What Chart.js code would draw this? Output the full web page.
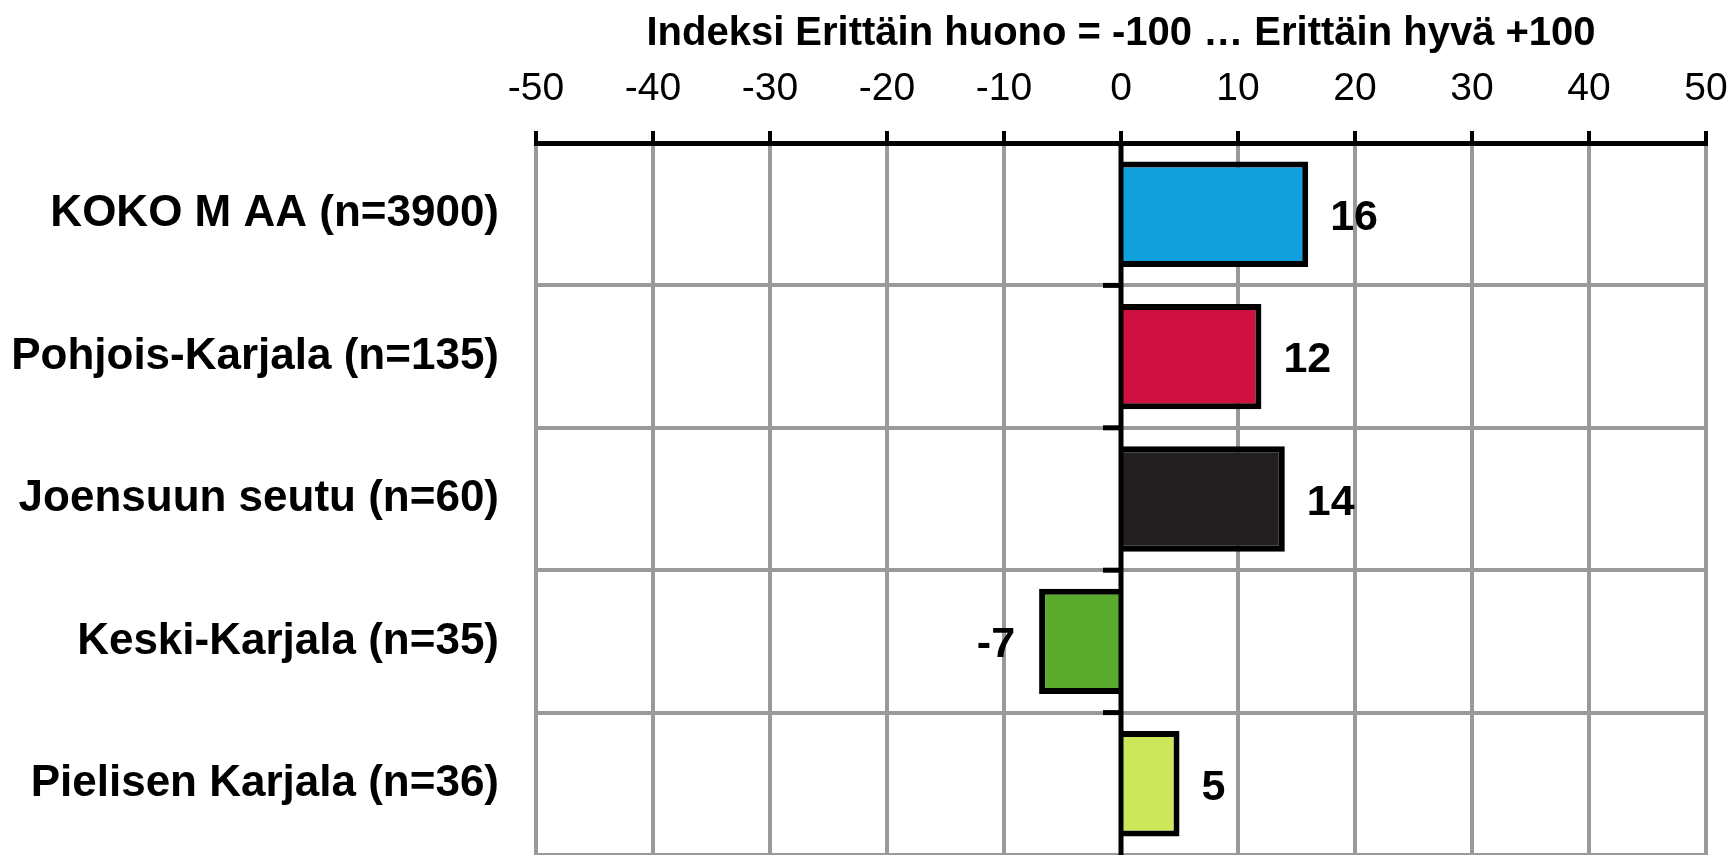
<!DOCTYPE html>
<html>
<head>
<meta charset="utf-8">
<script src="https://cdn.jsdelivr.net/npm/chart.js@4/dist/chart.umd.min.js"></script>
<style>
  html, body { margin: 0; padding: 0; background: #fff; }
  canvas { display: block; }
</style>
</head>
<body>
<canvas id="graph" width="1730" height="855"></canvas>
<script>
const categories = ['KOKO M AA (n=3900)', 'Pohjois-Karjala (n=135)', 'Joensuun seutu (n=60)', 'Keski-Karjala (n=35)', 'Pielisen Karjala (n=36)'];
const values = [16, 12, 14, -7, 5];
const barColors = ['#11a0db', '#cf1141', '#231f20', '#59aa2d', '#cde75a'];
const axisTitle = 'Indeksi Erittäin huono = -100 … Erittäin hyvä +100';

const fontFamily = '"Liberation Sans", Arial, sans-serif';

// zero line + little category ticks on it, drawn over the bars
const zeroLine = {
    id: 'zeroLine',
    afterDatasetsDraw(chart) {
        const {ctx, chartArea, scales} = chart;
        const x0 = scales.x.getPixelForValue(0);
        ctx.save();
        ctx.strokeStyle = '#000';
        ctx.lineWidth = 5;
        ctx.beginPath();
        ctx.moveTo(x0, chartArea.top);
        ctx.lineTo(x0, chartArea.bottom);
        ctx.stroke();
        for (let i = 0; i < categories.length - 1; i++) {
            const yb = (scales.y.getPixelForValue(i) + scales.y.getPixelForValue(i + 1)) / 2;
            ctx.beginPath();
            ctx.moveTo(x0 - 18, yb);
            ctx.lineTo(x0, yb);
            ctx.stroke();
        }
        ctx.restore();
    }
};

// value labels next to the bars
const valueLabels = {
    id: 'valueLabels',
    afterDatasetsDraw(chart) {
        const {ctx} = chart;
        const meta = chart.getDatasetMeta(0);
        ctx.save();
        ctx.font = 'bold 43px ' + fontFamily;
        ctx.fillStyle = '#000';
        ctx.textBaseline = 'middle';
        meta.data.forEach((bar, i) => {
            const v = values[i];
            if (v >= 0) {
                ctx.textAlign = 'left';
                ctx.fillText(String(v), bar.x + 22, bar.y + 4);
            } else {
                ctx.textAlign = 'right';
                ctx.fillText(String(v), bar.x - 24, bar.y + 4);
            }
        });
        ctx.restore();
    }
};

new Chart(document.getElementById('graph').getContext('2d'), {
    type: 'bar',
    data: {
        labels: categories,
        datasets: [{
            data: values,
            backgroundColor: barColors,
            borderColor: '#000',
            borderWidth: 6,
            barPercentage: 0.74,
            categoryPercentage: 1,
        }],
    },
    options: {
        indexAxis: 'y',
        responsive: false,
        animation: false,
        layout: { padding: 0 },
        plugins: {
            legend: { display: false },
            tooltip: { enabled: false },
        },
        scales: {
            x: {
                position: 'top',
                min: -50,
                max: 50,
                afterFit: function (scale) {
                    scale.height = 143;
                    scale.paddingLeft = 0;
                    scale.paddingRight = 24;
                },
                title: {
                    display: true,
                    text: axisTitle,
                    color: '#000',
                    font: { family: fontFamily, size: 40, weight: 'bold' },
                    padding: { top: 10, bottom: 4 },
                },
                grid: {
                    color: '#9a9a9a',
                    lineWidth: 4,
                    tickColor: '#000',
                    tickLength: 12,
                    tickWidth: 4,
                },
                border: {
                    display: true,
                    color: '#000',
                    width: 5,
                },
                ticks: {
                    stepSize: 10,
                    color: '#000',
                    padding: 18,
                    maxRotation: 0,
                    font: { family: fontFamily, size: 39 },
                },
            },
            y: {
                afterFit: function (scale) {
                    scale.width = 536;
                    scale.paddingTop = 0;
                    scale.paddingBottom = 0;
                },
                grid: {
                    color: '#9a9a9a',
                    lineWidth: 4,
                    drawTicks: false,
                    offset: true,
                },
                border: { display: false },
                ticks: {
                    color: '#000',
                    padding: 37,
                    font: { family: fontFamily, size: 44, weight: 'bold' },
                },
            },
        },
    },
    plugins: [zeroLine, valueLabels],
});
</script>
</body>
</html>
